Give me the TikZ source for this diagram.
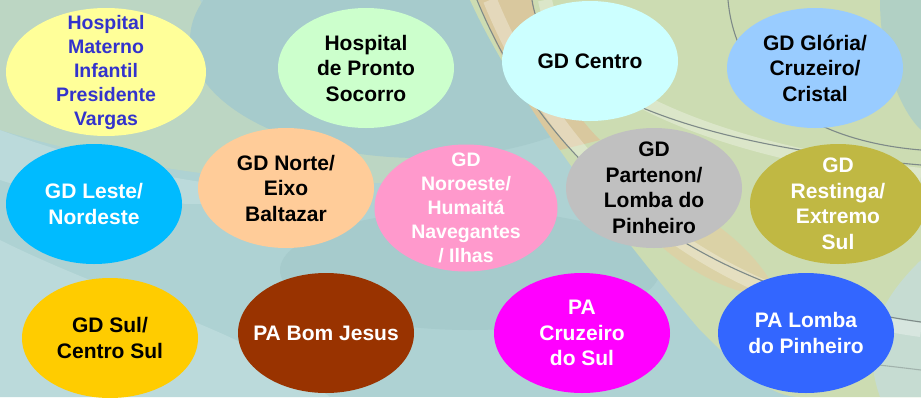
\documentclass[tikz,border=0pt]{standalone}
\usepackage{fontspec}
\setmainfont{Liberation Sans}
\usetikzlibrary{shapes.geometric}
\definecolor{bgbase}{HTML}{AED2D3}
\definecolor{bggreen}{HTML}{BCD6C3}
\definecolor{bgblob}{HTML}{A6CBCC}
\definecolor{bglight}{HTML}{BBDADB}
\definecolor{bgyellow}{HTML}{CCDCB2}
\definecolor{bgorange}{HTML}{DFD0A4}
\definecolor{bgtan}{HTML}{D9C89E}
\definecolor{bgpale}{HTML}{C6DCD2}
\definecolor{arcgray}{HTML}{7E8A88}
\definecolor{cmat}{HTML}{FFFF99}
\definecolor{tmat}{HTML}{3333CC}
\definecolor{chps}{HTML}{CCFFCC}
\definecolor{ccen}{HTML}{CCFFFF}
\definecolor{cglo}{HTML}{99CCFF}
\definecolor{cles}{HTML}{00BBFF}
\definecolor{cnor}{HTML}{FFCC99}
\definecolor{cnro}{HTML}{FF99CC}
\definecolor{cpar}{HTML}{C0C0C0}
\definecolor{cres}{HTML}{C0B843}
\definecolor{csul}{HTML}{FFCC00}
\definecolor{cbom}{HTML}{993300}
\definecolor{ccru}{HTML}{FF00FF}
\definecolor{clom}{HTML}{3366FF}
\tikzset{
  bub/.style={ellipse, draw=none, inner sep=-48pt, minimum width=176pt,
    minimum height=120pt, align=center,
    font=\bfseries\fontsize{21}{25.5}\selectfont},
  bubsmall/.style={bub, font=\bfseries\fontsize{19.5}{24}\selectfont},
  arcline/.style={draw=arcgray, line width=1.1pt},
  arcband/.style={draw=white, opacity=0.3, line width=14pt},
}
\begin{document}
\begin{tikzpicture}[x=1pt,y=-1pt]
\useasboundingbox (0,0) rectangle (921,397);
\begin{scope}
\clip (0,0) rectangle (921,397);
% background
\fill[bgbase] (0,0) rectangle (921,397);
\fill[bglight] (0,240) -- (0,397) -- (330,397) .. controls (250,330) and (120,300) .. (0,240) -- cycle;
\fill[bggreen] (0,0) -- (200,0) .. controls (230,60) and (300,120) .. (470,150)
  -- (470,175) .. controls (380,190) and (200,190) .. (0,130) -- cycle;
\fill[bglight] (0,130) .. controls (80,160) and (200,190) .. (300,190)
  -- (300,200) .. controls (180,210) and (60,200) .. (0,180) -- cycle;
\fill[bgblob] (420,40) ellipse[x radius=230, y radius=118];
\fill[bgblob] (470,270) ellipse[x radius=190, y radius=60];
\fill[bgyellow] (470,0) .. controls (520,110) and (640,260) .. (700,330)
  .. controls (740,370) and (770,397) .. (800,397) -- (921,397) -- (921,0) -- cycle;
\fill[bgtan] (478,0) .. controls (500,60) and (530,110) .. (560,150)
  -- (600,140) .. controls (560,100) and (540,50) .. (533,0) -- cycle;
\fill[bgorange, opacity=0.8] (600,170) .. controls (640,240) and (700,290) .. (780,300)
  .. controls (760,250) and (700,200) .. (600,170) -- cycle;
\fill[bgpale] (921,260) .. controls (880,300) and (860,340) .. (880,397) -- (921,397) -- cycle;
\fill[bgblob, opacity=0.7] (921,0) -- (880,0) .. controls (880,60) and (900,110) .. (921,130) -- cycle;
% swirl bands and lines
\draw[arcband] (490,0) .. controls (560,170) and (700,300) .. (921,330);
\draw[arcband] (545,0) .. controls (560,80) and (700,150) .. (921,175);
\draw[arcline] (477,0) .. controls (545,165) and (690,290) .. (921,322);
\draw[arcline] (532,0) .. controls (545,90) and (690,145) .. (921,165);
\draw[arcline] (728,0) .. controls (735,80) and (800,140) .. (921,150);
\draw[arcline, opacity=0.5] (921,370) .. controls (880,365) and (840,360) .. (800,360);
\end{scope}
% nodes
\node[bubsmall, fill=cmat, text=tmat, minimum width=200pt, minimum height=128pt] (mat) at (106,72)
  {Hospital\\Materno\\Infantil\\Presidente\\Vargas};
\node[bub, fill=chps] (hps) at (366,68) {Hospital\\de Pronto\\Socorro};
\node[bub, fill=ccen] (cen) at (590,61) {GD Centro};
\node[bub, fill=cglo] (glo) at (815,68) {GD Glória/\\Cruzeiro/\\Cristal};
\node[bub, fill=cles, text=white] (les) at (94,204) {GD Leste/\\Nordeste};
\node[bub, fill=cnor] (nor) at (286,188) {GD Norte/\\Eixo\\Baltazar};
\node[bubsmall, fill=cnro, text=white, minimum width=183pt, minimum height=127pt] (nro) at (466,208)
  {GD\\Noroeste/\\Humaitá\\Navegantes\\/ Ilhas};
\node[bub, fill=cpar] (par) at (654,188) {GD\\Partenon/\\Lomba do\\Pinheiro};
\node[bub, fill=cres, text=white] (res) at (838,204) {GD\\Restinga/\\Extremo\\Sul};
\node[bub, fill=csul] (sul) at (110,338) {GD Sul/\\Centro Sul};
\node[bub, fill=cbom, text=white] (bom) at (326,333) {PA Bom Jesus};
\node[bub, fill=ccru, text=white] (cru) at (582,333) {PA\\Cruzeiro\\do Sul};
\node[bub, fill=clom, text=white] (lom) at (806,333) {PA Lomba\\do Pinheiro};
\end{tikzpicture}
\end{document}
